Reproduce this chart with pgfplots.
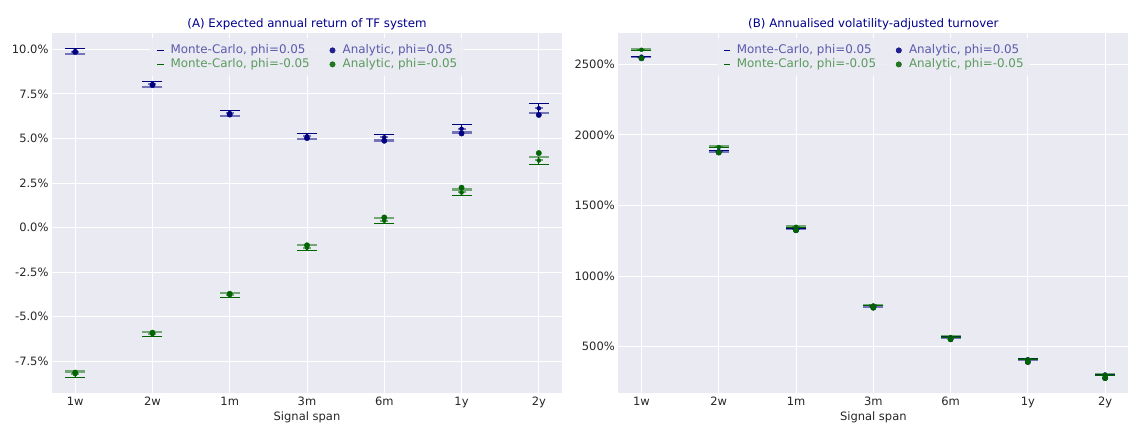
\documentclass[border=0pt]{standalone}
\usepackage{fontspec}
\setmainfont{DejaVu Sans}
\usepackage{pgfplots}
\usepackage{pgfplotstable}
\pgfplotsset{compat=1.18}

\definecolor{bg}{HTML}{EAEAF2}
\definecolor{navyc}{HTML}{000080}
\definecolor{greenc}{HTML}{006400}
\definecolor{tickc}{HTML}{262626}
\definecolor{titlec}{HTML}{00008B}
\definecolor{legblue}{HTML}{5A5AAC}
\definecolor{leggreen}{HTML}{5A9A5E}

\newcommand{\tickfont}{\fontsize{11.5}{13.8}\selectfont}
\newcommand{\legfont}{\fontsize{11.9}{14}\selectfont}
\newcommand{\titlefont}{\fontsize{11.8}{14}\selectfont}

% columns: x = span index, mc = Monte-Carlo mean, err = half width, an = analytic value
\pgfplotstableread{
x mc err an
0 9.875 0.155 9.85
1 8.05 0.16 7.99
2 6.43 0.16 6.34
3 5.12 0.16 5.02
4 5.065 0.175 4.87
5 5.545 0.215 5.28
6 6.69 0.25 6.32
}\retpos
\pgfplotstableread{
x mc err an
0 -8.225 0.155 -8.13
1 -5.98 0.14 -5.89
2 -3.805 0.125 -3.71
3 -1.12 0.15 -0.99
4 0.39 0.15 0.57
5 1.97 0.16 2.24
6 3.765 0.205 4.18
}\retneg
\pgfplotstableread{
x mc err an
0 2554 3 2543
1 1885 3 1876
2 1335 3 1325
3 789 3 777
4 566 3 553
5 411 3 392
6 303 3 278
}\turnpos
\pgfplotstableread{
x mc err an
0 2603 3 2543
1 1914 3 1876
2 1349 3 1325
3 792 3 777
4 568 3 553
5 410 3 392
6 300 3 278
}\turnneg

% Monte-Carlo error bar: #1 table, #2 colour, #3 side of the lighter cap (-1 below, 1 above)
\newcommand{\mcplot}[3]{%
  \addplot[forget plot, only marks, mark=none, #2,
    error bars/.cd, y dir=both, y explicit, error mark=none,
    error bar style={#2, line width=1.1pt}]
    table[x=x, y=mc, y error=err] {#1};
  \addplot[forget plot, only marks, mark=-, mark size=10pt, #2,
    mark options={line width=1.1pt}]
    table[x=x, y expr=\thisrow{mc}-(#3)*\thisrow{err}] {#1};
  \addplot[forget plot, only marks, mark=-, mark size=10pt, #2, opacity=0.5,
    mark options={line width=2.4pt}]
    table[x=x, y expr=\thisrow{mc}+(#3)*\thisrow{err}] {#1};
  \addplot[forget plot, only marks, mark=-, mark size=4pt, #2, opacity=0.5,
    mark options={line width=2pt}]
    table[x=x, y=mc] {#1};
}
\newcommand{\anplot}[2]{%
  \addplot[forget plot, only marks, mark=*, mark size=2.7pt, #2]
    table[x=x, y=an] {#1};
}
\newcommand{\legendblock}{%
  \addlegendimage{only marks, mark=-, mark size=3.2pt, navyc, mark options={line width=1.2pt}}
  \addlegendentry{\textcolor{legblue}{Monte-Carlo, phi=0.05}}
  \addlegendimage{only marks, mark=*, mark size=2.7pt, navyc}
  \addlegendentry{\textcolor{legblue}{Analytic, phi=0.05}}
  \addlegendimage{only marks, mark=-, mark size=3.2pt, greenc, mark options={line width=1.2pt}}
  \addlegendentry{\textcolor{leggreen}{Monte-Carlo, phi=-0.05}}
  \addlegendimage{only marks, mark=*, mark size=2.7pt, greenc}
  \addlegendentry{\textcolor{leggreen}{Analytic, phi=-0.05}}
}

\pgfplotsset{
  tfstyle/.style={
    scale only axis, width=510pt, height=360.6pt,
    xmin=-0.3, xmax=6.3,
    xtick={0,...,6}, xticklabels={1w,2w,1m,3m,6m,1y,2y},
    axis background/.style={fill=bg},
    axis line style={draw=none},
    major tick length=0pt,
    grid=major, major grid style={white, line width=1pt},
    tick label style={font=\tickfont, text=tickc},
    xlabel={Signal span},
    xlabel style={font=\tickfont, text=tickc, at={(axis description cs:0.5,0)}, anchor=center, yshift=-23.7pt},
    title style={font=\titlefont, text=titlec, yshift=-7pt},
    legend columns=2,
    legend cell align=left,
    legend image code/.code={%
      \path (0pt,0pt) (13.5pt,0pt);
      \draw[##1] plot coordinates {(5pt,0pt)};},
    legend style={at={(0.5,1)}, anchor=north, yshift=-5.5pt,
      fill=bg, fill opacity=0.85, text opacity=1, draw=none, inner sep=5pt,
      font=\legfont,
      nodes={text height=8.5pt, text depth=2.5pt, inner sep=1.5pt},
      /tikz/every even column/.append style={column sep=16pt}},
  }
}

\begin{document}
\begin{tikzpicture}
\useasboundingbox (0,0) rectangle (1138pt,434pt);

\begin{axis}[tfstyle, at={(52pt,40.7pt)}, anchor=south west,
  title={(A) Expected annual return of TF system},
  ymin=-9.29, ymax=10.93,
  ytick={-7.5,-5,-2.5,0,2.5,5,7.5,10},
  yticklabels={-7.5\%,-5.0\%,-2.5\%,0.0\%,2.5\%,5.0\%,7.5\%,10.0\%}]
  \legendblock
  \mcplot{\retpos}{navyc}{-1}
  \mcplot{\retneg}{greenc}{1}
  \anplot{\retpos}{navyc}
  \anplot{\retneg}{greenc}
\end{axis}

\begin{axis}[tfstyle, at={(618.3pt,40.7pt)}, anchor=south west,
  title={(B) Annualised volatility-adjusted turnover},
  ymin=170, ymax=2724,
  ytick={500,1000,1500,2000,2500},
  yticklabels={500\%,1000\%,1500\%,2000\%,2500\%}]
  \legendblock
  \mcplot{\turnpos}{navyc}{-1}
  \mcplot{\turnneg}{greenc}{1}
  \anplot{\turnpos}{navyc}
  \anplot{\turnneg}{greenc}
\end{axis}
\end{tikzpicture}
\end{document}
